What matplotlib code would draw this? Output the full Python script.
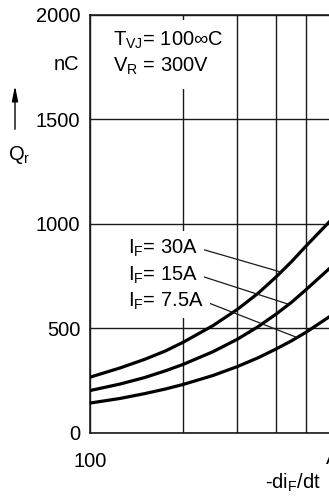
import numpy as np
import matplotlib
matplotlib.use("Agg")
import matplotlib.pyplot as plt

plt.rcParams['font.family'] = ['Liberation Sans', 'DejaVu Sans']
plt.rcParams['mathtext.fontset'] = 'custom'
plt.rcParams['mathtext.rm'] = 'Liberation Sans'
plt.rcParams['mathtext.it'] = 'Liberation Sans'

# ---- data ----
di_dt = [100, 125, 150, 175, 200, 250, 300, 350, 400, 450, 500, 600, 700]      # A/us
qr_30A = [265, 309, 350, 390, 432, 512, 590, 667, 745, 820, 893, 1015, 1150]   # nC
qr_15A = [201, 232, 263, 295, 326, 387, 447, 507, 567, 625, 684, 790, 905]
qr_7_5A = [141, 163, 186, 208, 230, 273, 316, 358, 400, 440, 480, 558, 640]
series_labels = ["I$_\\mathregular{F}$= 30A", "I$_\\mathregular{F}$= 15A", "I$_\\mathregular{F}$= 7.5A"]
leader_targets = [415, 440, 468]   # di/dt where each leader line meets its curve
y_ticks = [0, 500, 1000, 1500, 2000]
x_major = [100, 1000]
x_minor = [200, 300, 400, 500, 600, 700, 800, 900]

FS = 14.5
W, H = 329, 500
fig = plt.figure(figsize=(W / 100, H / 100), dpi=100)
fig.patch.set_facecolor('white')
ax = fig.add_axes([90 / W, (H - 432.5) / H, 309 / W, (432.5 - 15) / H])
ax.set_xscale('log')
ax.set_xlim(100, 1000)
ax.set_ylim(0, 2000)

ax.set_xticks(x_major)
ax.set_xticklabels([str(v) for v in x_major])
ax.set_xticks(x_minor, minor=True)
ax.set_xticklabels([], minor=True)
ax.set_yticks(y_ticks)
ax.set_yticklabels([str(v) for v in y_ticks])
ax.tick_params(axis='both', which='both', length=0, labelsize=FS)
ax.tick_params(axis='x', pad=14)
ax.tick_params(axis='y', pad=7)
ax.grid(True, which='both', color='#1a1a1a', lw=1.0)
ax.set_axisbelow(True)
for s in ax.spines.values():
    s.set_linewidth(1.2)
    s.set_color('#1a1a1a')

series = [qr_30A, qr_15A, qr_7_5A]
for ys in series:
    ax.plot(di_dt, ys, color='black', lw=2.3, solid_capstyle='butt', zorder=3)

# labels with leader lines
label_pos = [(128, H - 248), (128, H - 275), (128, H - 301)]
for lab, ys, xt, pos in zip(series_labels, series, leader_targets, label_pos):
    yt = np.interp(np.log10(xt), np.log10(di_dt), ys)
    ax.annotate(lab, xy=(xt, yt), xytext=pos, textcoords='figure pixels',
                ha='left', va='center', fontsize=FS, zorder=5,
                bbox=dict(facecolor='white', edgecolor='none', pad=4.5),
                arrowprops=dict(arrowstyle='-', lw=0.9, color='#1a1a1a',
                                shrinkA=0, shrinkB=0, relpos=(1.0, 0.5)))

# conditions: white backing first, then the visible texts
cond_texts = ["T$_\\mathregular{VJ}$= 100∞C", "V$_\\mathregular{R}$ = 300V"]
cond_y = [40, 66]
cond_pad = [7, 9]
for t, yy, p in zip(cond_texts, cond_y, cond_pad):
    fig.text(113 / W, 1 - yy / H, t, ha='left', va='center', fontsize=FS, color='white',
             bbox=dict(facecolor='white', edgecolor='none', pad=p))
for t, yy in zip(cond_texts, cond_y):
    fig.text(113 / W, 1 - yy / H, t, ha='left', va='center', fontsize=FS, color='black')

# axis labels
fig.text(79 / W, 1 - 65 / H, "nC", ha='right', va='center', fontsize=FS)
fig.text(8 / W, 1 - 155 / H, "Q$_\\mathregular{r}$", ha='left', va='center', fontsize=FS)
fig.patches.append(matplotlib.patches.FancyArrowPatch(
    (15, H - 132), (15, H - 83), transform=None, arrowstyle='-|>,head_width=0.18,head_length=0.9',
    mutation_scale=10, lw=1.0, color='black'))
fig.text(321 / W, 1 - 483 / H, "-di$_\\mathregular{F}$/dt", ha='right', va='center', fontsize=FS)
fig.text(326 / W, 1 - 458 / H, "A/µs", ha='left', va='center', fontsize=FS)

fig.savefig("out.png", dpi=100, facecolor='white')
